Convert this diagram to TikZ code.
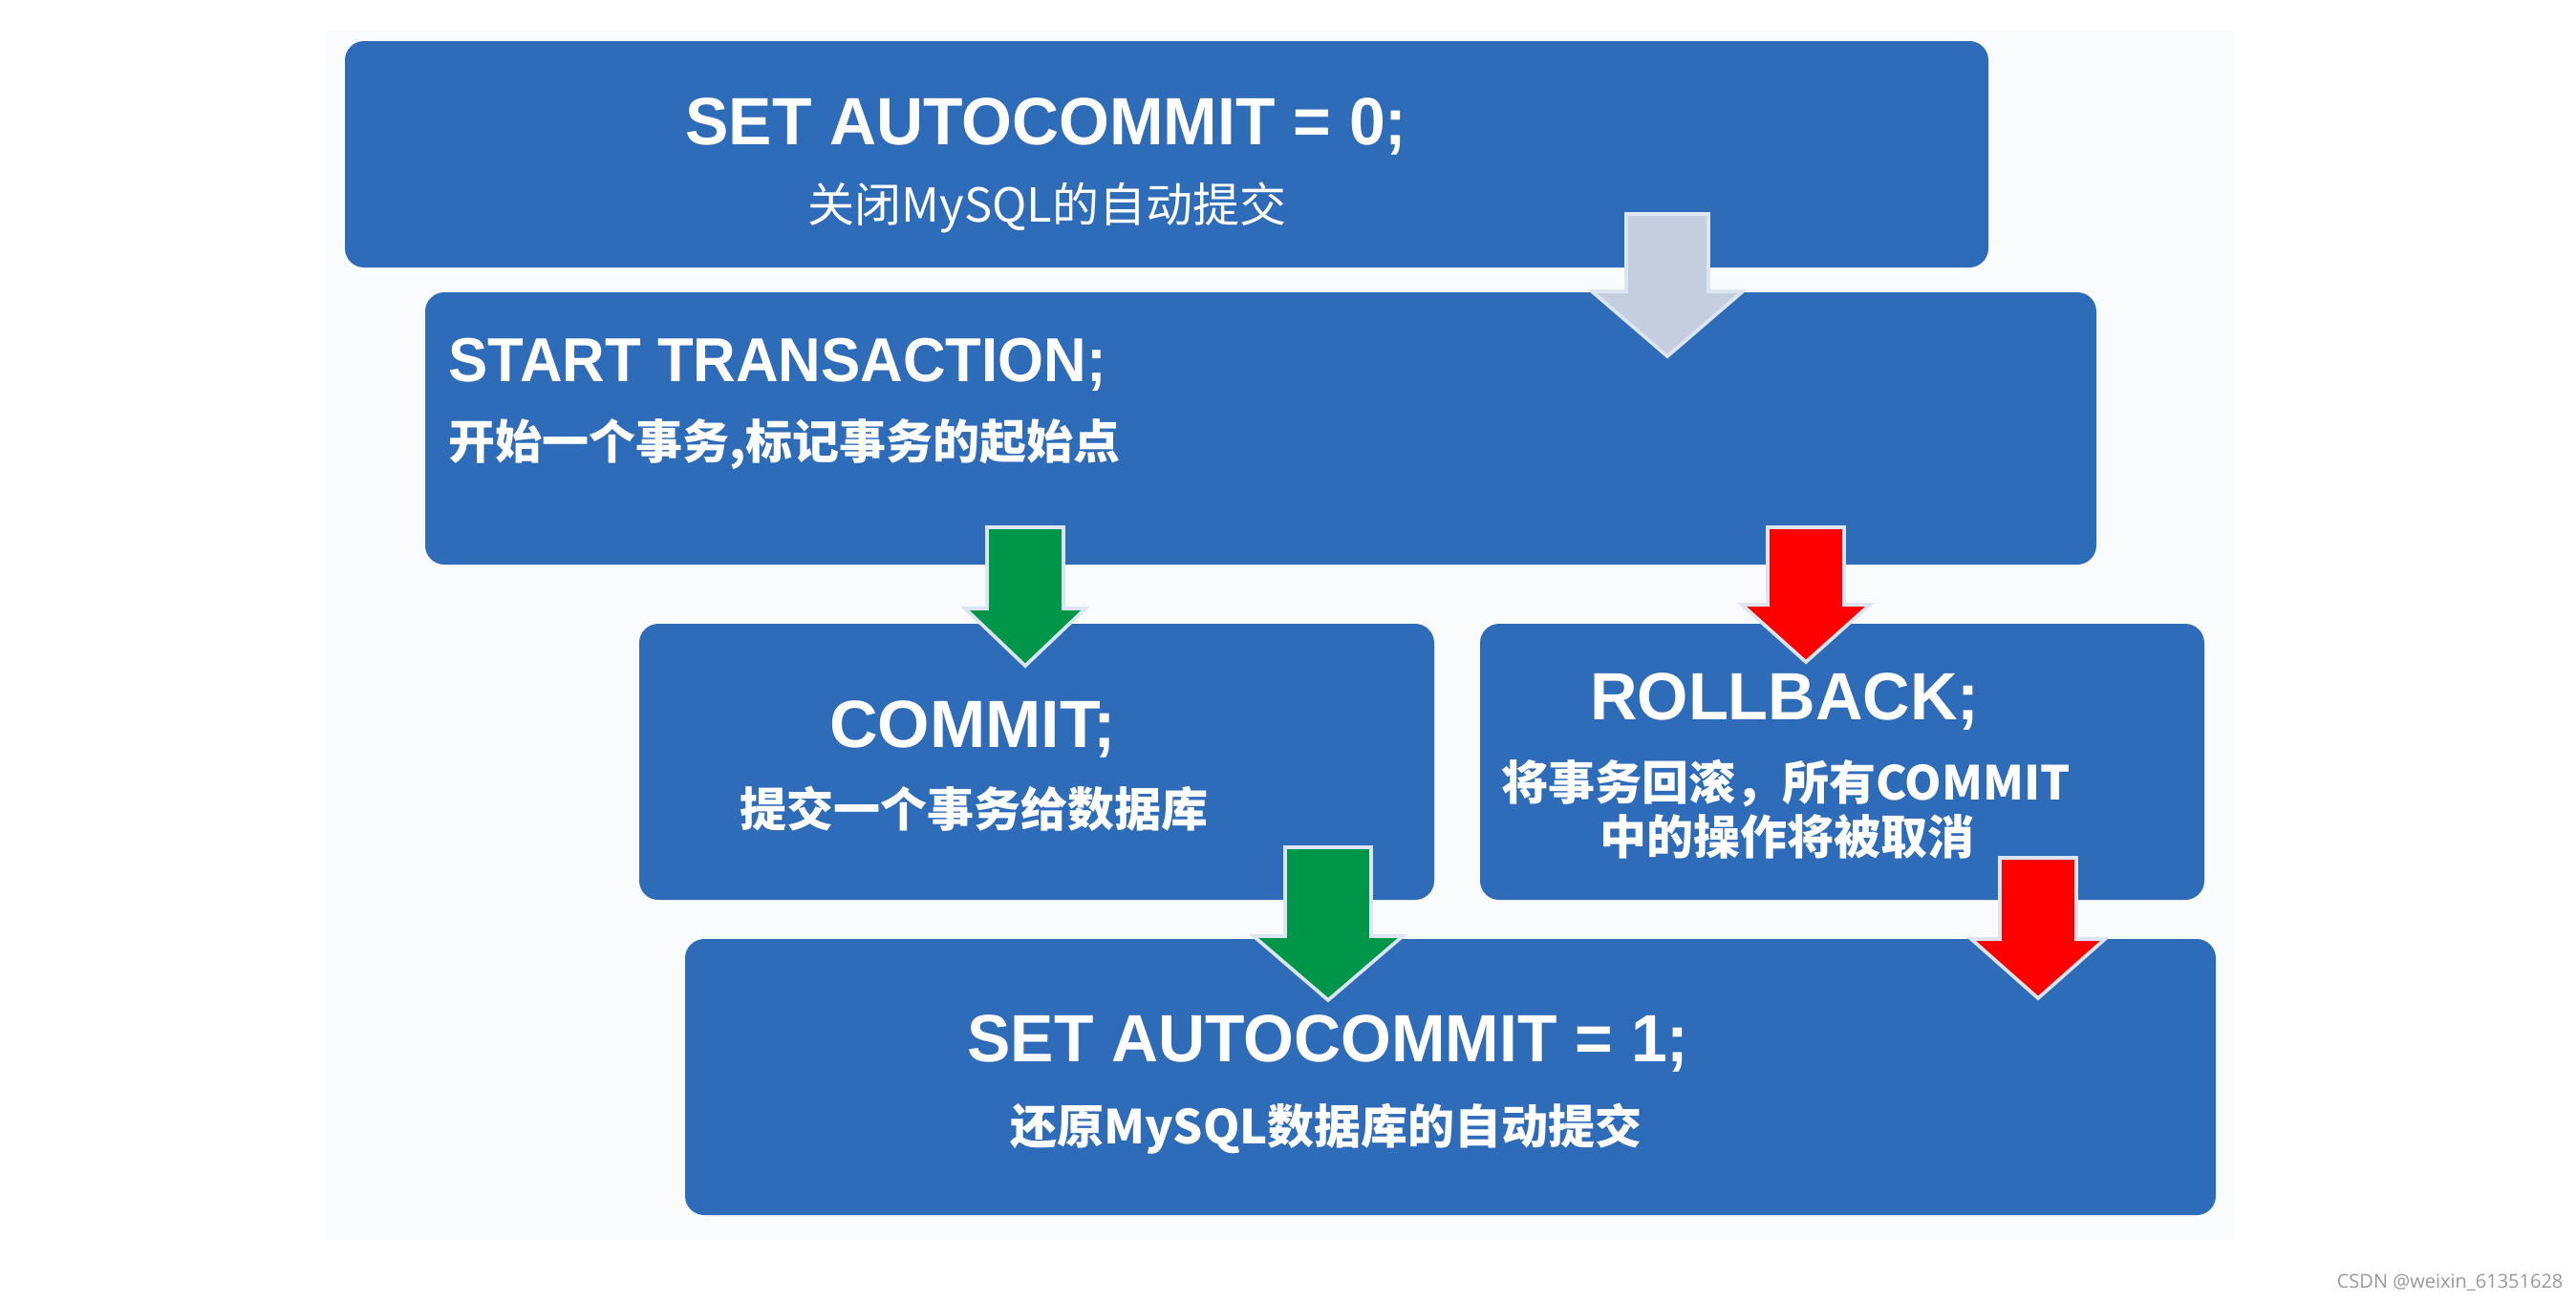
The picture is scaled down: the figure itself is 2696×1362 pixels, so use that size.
\documentclass[tikz,border=0pt]{standalone}
\usepackage{fontspec}
\usepackage{graphicx}
\setmainfont{Liberation Sans}
\newfontfamily\cjk{Noto Sans CJK SC}
\newfontfamily\wmfont{Open Sans}
\usetikzlibrary{fit}
\definecolor{boxblue}{HTML}{2E6BB9}
\definecolor{arrgreen}{HTML}{00964A}
\definecolor{arrred}{HTML}{FF0000}
\definecolor{arrgrey}{HTML}{C5CEDF}
\definecolor{arredge}{HTML}{DCE6F2}
\definecolor{backdrop}{HTML}{FAFBFC}
\newcommand\blockarrow[7]{%
  \filldraw[arrowstyle, fill=#7] ({#1-#3},#2) -- ({#1+#3},#2) -- ({#1+#3},#4) -- ({#1+#5},#4)
    -- (#1,#6) -- ({#1-#5},#4) -- ({#1-#3},#4) -- cycle;}
\newcommand\sqz[2]{\scalebox{#1}[1]{#2}}
\begin{document}
\begin{tikzpicture}[x=0.3pt,y=-0.3pt,
  box/.style={fill=boxblue, draw=none, rounded corners=6pt, inner sep=0pt},
  titletext/.style={text=white, font=\fontsize{21}{24}\selectfont\bfseries, anchor=base, inner sep=0pt},
  subtext/.style={text=white, font=\fontsize{14.7}{17}\selectfont\cjk\bfseries, anchor=base, inner sep=0pt},
  arrowstyle/.style={draw=arredge, line width=1.1pt, line join=miter}]
\useasboundingbox (0,0) rectangle (2696,1362);
\fill[white] (0,0) rectangle (2696,1362);
\fill[backdrop] (340,32) rectangle (2338,1298);

% boxes
\node[box, fit={(361,43) (2081,280)}] (b1) {};
\node[box, fit={(445,306) (2194,591)}] (b2) {};
\node[box, fit={(669,653) (1501,942)}] (b3) {};
\node[box, fit={(1549,653) (2307,942)}] (b4) {};
\node[box, fit={(717,983) (2319,1272)}] (b5) {};

% texts
\node[titletext] (t1) at (1095,151) {\sqz{0.97}{SET AUTOCOMMIT = 0;}};
\node[subtext, font=\fontsize{14.7}{17}\selectfont\cjk] (s1) at (1096,232) {关闭MySQL的自动提交};
\node[titletext, anchor=base west, font=\fontsize{19.5}{22}\selectfont\bfseries] (t2) at (469,399) {\sqz{0.95}{START TRANSACTION;}};
\node[subtext, anchor=base west] (s2) at (469,480) {开始一个事务,标记事务的起始点};
\node[titletext] (t3) at (1018,782) {COMMIT;};
\node[subtext] (s3) at (1019,865) {提交一个事务给数据库};
\node[titletext] (t4) at (1868,753) {\sqz{0.98}{ROLLBACK;}};
\node[subtext] (s4a) at (1869,837) {将事务回滚，所有COMMIT};
\node[subtext] (s4b) at (1870,894) {中的操作将被取消};
\node[titletext] (t5) at (1390,1111) {\sqz{0.97}{SET AUTOCOMMIT = 1;}};
\node[subtext] (s5) at (1388,1197) {还原MySQL数据库的自动提交};

% block arrows
\blockarrow{1745}{224}{43}{305}{79}{373}{arrgrey}
\blockarrow{1073}{552}{40}{637}{63}{697}{arrgreen}
\blockarrow{1890}{552}{40}{633}{67}{693}{arrred}
\blockarrow{1390}{887}{45}{980}{78}{1047}{arrgreen}
\blockarrow{2133}{898}{40}{983}{70}{1045}{arrred}

% watermark
\node[anchor=base east, inner sep=0pt, text=gray!80, font=\fontsize{6}{7}\selectfont\wmfont] (wm) at (2683,1348) {CSDN @weixin\_61351628};
\end{tikzpicture}
\end{document}
